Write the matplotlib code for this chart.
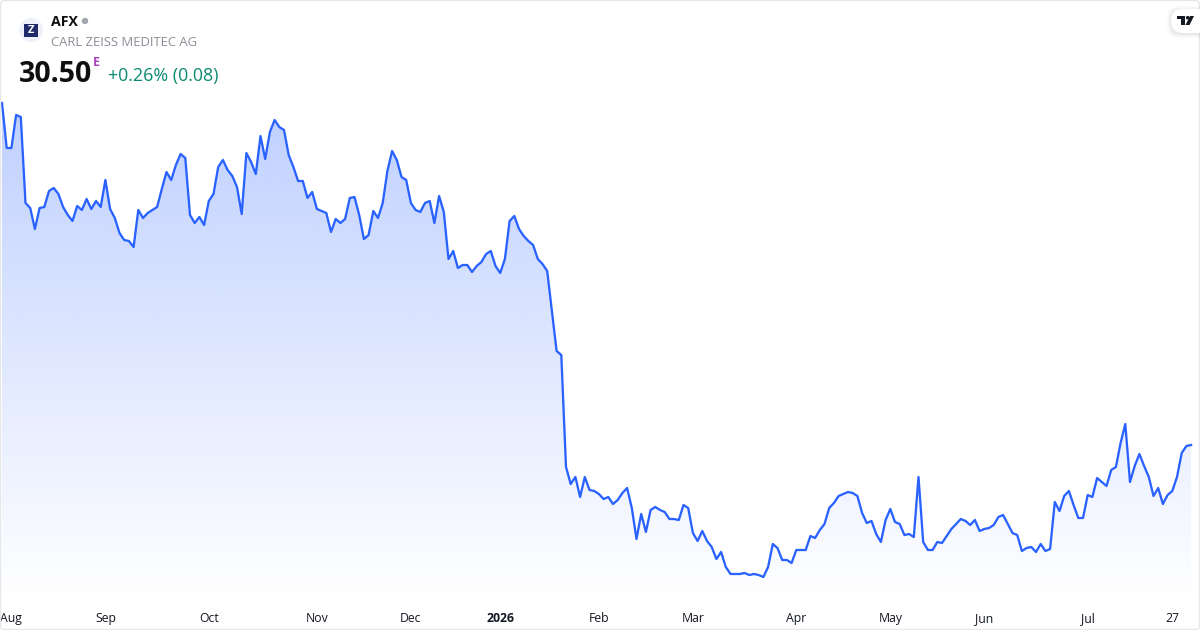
import numpy as np
import matplotlib
matplotlib.use('Agg')
import matplotlib.pyplot as plt
from matplotlib.patches import Circle, FancyBboxPatch, Polygon, Rectangle

plt.rcParams['font.family'] = ['Open Sans', 'DejaVu Sans']

# daily closes (price scale is estimated, only the last one is printed)
prices = [
    47.60, 45.35, 45.35, 47.00, 46.90, 42.60, 42.35, 41.30, 42.35, 42.40, 43.20, 43.35, 43.05, 42.40, 42.00, 41.70,
    42.45, 42.25, 42.80, 42.30, 42.70, 42.40, 43.75, 42.30, 41.85, 41.10, 40.75, 40.70, 40.40, 42.25, 41.85, 42.10,
    42.25, 42.40, 43.30, 44.15, 43.75, 44.50, 45.05, 44.85, 42.00, 41.60, 41.90, 41.50, 42.70, 43.05, 44.40, 44.75,
    44.25, 43.95, 43.40, 42.05, 45.10, 44.65, 44.05, 45.95, 44.80, 46.15, 46.75, 46.40, 46.25, 45.00, 44.40, 43.70,
    43.70, 42.85, 43.15, 42.30, 42.20, 42.10, 41.15, 41.80, 41.60, 41.80, 42.85, 42.90, 42.00, 40.80, 41.00, 42.20,
    41.85, 42.60, 44.20, 45.20, 44.75, 43.90, 43.75, 42.60, 42.25, 42.15, 42.60, 42.70, 41.60, 42.95, 42.15, 39.80,
    40.20, 39.35, 39.50, 39.50, 39.15, 39.45, 39.65, 40.05, 40.20, 39.45, 39.10, 39.80, 41.70, 41.95, 41.30, 40.95,
    40.70, 40.50, 39.80, 39.55, 39.20, 37.20, 35.20, 35.00, 29.40, 28.55, 28.90, 27.90, 28.90, 28.25, 28.20, 28.05,
    27.80, 27.90, 27.55, 27.75, 28.10, 28.35, 27.35, 25.80, 27.05, 26.15, 27.25, 27.40, 27.25, 27.15, 26.80, 26.80,
    26.75, 27.50, 27.35, 26.10, 25.70, 26.20, 25.70, 25.40, 24.80, 25.15, 24.40, 24.05, 24.05, 24.05, 24.10, 24.00,
    24.05, 24.00, 23.90, 24.40, 25.55, 25.35, 24.75, 24.75, 24.60, 25.25, 25.25, 25.25, 25.95, 25.85, 26.25, 26.55,
    27.35, 27.60, 27.95, 28.05, 28.15, 28.10, 27.95, 27.10, 26.60, 26.70, 26.05, 25.65, 26.75, 27.30, 26.65, 26.55,
    26.00, 26.05, 25.90, 28.90, 25.65, 25.25, 25.25, 25.65, 25.60, 25.95, 26.30, 26.55, 26.80, 26.70, 26.50, 26.75,
    26.20, 26.30, 26.35, 26.50, 26.90, 27.00, 26.55, 26.10, 26.00, 25.20, 25.35, 25.40, 25.15, 25.55, 25.20, 25.30,
    27.65, 27.20, 27.95, 28.20, 27.50, 26.85, 26.85, 28.00, 27.90, 28.85, 28.65, 28.45, 29.25, 29.40, 30.60, 31.55,
    28.65, 29.45, 30.05, 29.45, 28.90, 27.95, 28.35, 27.55, 28.00, 28.20, 28.90, 30.10, 30.45, 30.50,
]
tick_pos = [2, 22, 44, 67, 87, 106, 127, 147, 169, 189, 209, 231, 249]
tick_labels = ['Aug', 'Sep', 'Oct', 'Nov', 'Dec', '2026', 'Feb', 'Mar', 'Apr', 'May', 'Jun', 'Jul', '27']

symbol = 'AFX'
company = 'CARL ZEISS MEDITEC AG'
last_price = '30.50'
change = '+0.26% (0.08)'

LINE = '#2962FF'
TEXT = '#131722'

y = np.asarray(prices)
x = np.arange(len(y))

fig = plt.figure(figsize=(12, 6.3), dpi=100, facecolor='white')
ax = fig.add_axes([0, 30 / 630, 1, 600 / 630])

# gradient below the line
grad = np.zeros((256, 2, 4))
grad[..., :3] = matplotlib.colors.to_rgb(LINE)
grad[..., 3] = np.linspace(0.30, 0.0, 256)[:, None]
img = ax.imshow(grad, extent=(x[0], x[-1], 22.75, y.max()), aspect='auto', zorder=1)
area = ax.fill_between(x, y, 22.75, facecolor='none', edgecolor='none')
img.set_clip_path(area.get_paths()[0], ax.transData)

ax.plot(x, y, color=LINE, lw=1.65, solid_joinstyle='round', zorder=2)

ax.set_xlim(-2 / 4.7, 1198 / 4.7)
ax.set_ylim(22.75, 52.75)
ax.set_yticks([])
ax.set_xticks(tick_pos)
ax.set_xticklabels(tick_labels)
ax.tick_params(axis='x', length=0, pad=8.7, labelsize=8.8, labelcolor=TEXT)
ax.get_xticklabels()[5].set_fontweight('bold')
for s in ax.spines.values():
    s.set_visible(False)

# overlay in pixels for the header and the frame
top = fig.add_axes([0, 0, 1, 1], facecolor='none')
top.set_xlim(0, 1200)
top.set_ylim(630, 0)
top.axis('off')

top.add_patch(FancyBboxPatch((0.5, 0.5), 1199, 629, boxstyle='round,pad=0,rounding_size=4',
                             fc='none', ec='#e6e7ea', lw=1))

top.add_patch(Circle((31, 30), 12, fc='#eef1f9', ec='none'))
top.add_patch(Rectangle((24, 24), 14, 13, fc='#1f2a6b', ec='none'))
top.text(31, 30.5, 'Z', color='white', fontsize=8, fontweight='bold', ha='center', va='center')

top.text(51, 22, symbol, color='#0f0f0f', fontsize=10.2, fontweight='bold', va='center')
top.add_patch(Circle((85, 21), 3.2, fc='#a3a6af', ec='none'))
top.text(51, 42, company, color='#8a8e97', fontsize=9.4, va='center')
top.text(19, 74, last_price, color='#0f0f0f', fontsize=20.5, fontweight='bold', va='center')
top.text(93, 62.5, 'E', color='#ab47bc', fontsize=9, fontweight='bold', va='center')
top.text(108, 76, change, color='#0b8a73', fontsize=12.85, va='center')

# TradingView badge
for grow, alpha in ((4, 0.02), (2.5, 0.03), (1, 0.04)):
    top.add_patch(FancyBboxPatch((1171 - grow, 9 - grow + 1), 40 + grow, 24 + 2 * grow,
                                 boxstyle='round,pad=0,rounding_size=12', fc='black', ec='none', alpha=alpha))
top.add_patch(FancyBboxPatch((1171, 9), 40, 24, boxstyle='round,pad=0,rounding_size=12', fc='white', ec='none'))
top.add_patch(Polygon([(1177, 16), (1184.5, 16), (1184.5, 25), (1180.5, 25), (1180.5, 19), (1177, 19)],
                      fc='#131722', ec='none'))
top.add_patch(Circle((1187.7, 17.7), 1.8, fc='#131722', ec='none'))
top.add_patch(Polygon([(1190, 16), (1194, 16), (1189.5, 25), (1185.5, 25)], fc='#131722', ec='none'))

fig.savefig('out.png', dpi=100)
